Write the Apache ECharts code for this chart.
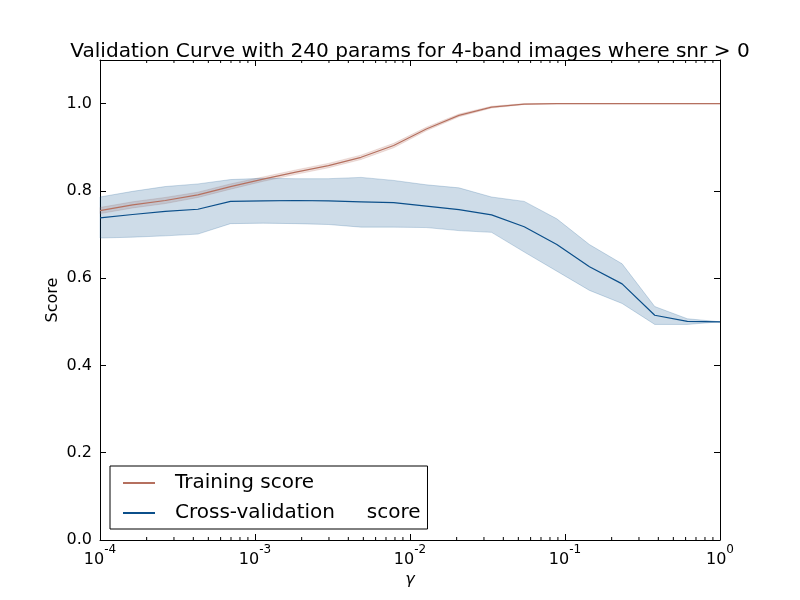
<!DOCTYPE html>
<html>
<head>
<meta charset="utf-8">
<script src="https://cdn.jsdelivr.net/npm/echarts@6/dist/echarts.min.js"></script>
<style>
  html, body { margin: 0; padding: 0; background: #fff; }
  #chart { width: 800px; height: 600px; }
</style>
</head>
<body>
<div id="chart"></div>
<script>
// gamma 取 10^-4 .. 10^0 共 20 个点
const gammaExp = [0, 1, 2, 3, 4, 5, 6, 7, 8, 9, 10, 11, 12, 13, 14, 15, 16, 17, 18, 19];

const trainMean = [0.755, 0.768, 0.778, 0.791, 0.810, 0.827, 0.843, 0.858, 0.877, 0.904,
                   0.942, 0.973, 0.992, 0.999, 1.0, 1.0, 1.0, 1.0, 1.0, 1.0];
const trainStd = [0.007, 0.007, 0.007, 0.006, 0.006, 0.005, 0.005, 0.005, 0.005, 0.005,
                  0.004, 0.003, 0.002, 0.001, 0.0, 0.0, 0.0, 0.0, 0.0, 0.0];

const cvMean = [0.738, 0.746, 0.753, 0.758, 0.776, 0.777, 0.778, 0.777, 0.775, 0.773,
                0.765, 0.757, 0.745, 0.718, 0.677, 0.626, 0.587, 0.515, 0.501, 0.500];
const cvUpper = [0.786, 0.799, 0.810, 0.816, 0.826, 0.829, 0.828, 0.828, 0.831, 0.824,
                 0.814, 0.807, 0.786, 0.776, 0.736, 0.677, 0.633, 0.535, 0.507, 0.500];
const cvLower = [0.692, 0.694, 0.697, 0.701, 0.725, 0.726, 0.725, 0.723, 0.717, 0.717,
                 0.716, 0.709, 0.705, 0.660, 0.616, 0.572, 0.542, 0.494, 0.494, 0.500];

const yTicks = [0.0, 0.2, 0.4, 0.6, 0.8, 1.0];
const minorMult = [2, 3, 4, 5, 6, 7, 8, 9];
const decades = [-4, -3, -2, -1];

const trainColor = '#b5705f';
const cvColor = '#0b4f8a';
const font = 'DejaVu Sans';

const gamma = gammaExp.map(i => Math.pow(10, -4 + 4 * i / 19));
const pairs = arr => gamma.map((g, i) => [g, arr[i]]);

const trainLow = trainMean.map((m, i) => m - trainStd[i]);
const trainHigh = trainMean.map((m, i) => m + trainStd[i]);

// 对数轴的次刻度
const minorTicks = [];
decades.forEach(d => minorMult.forEach(m => minorTicks.push([m * Math.pow(10, d)])));

const chart = echarts.init(document.getElementById('chart'));

// 填充带：上下边界围成的多边形
function bandSeries(name, low, high, color) {
    return {
        name: name, type: 'custom', silent: true, z: 2,
        data: gamma.map((g, i) => [g, low[i], high[i]]),
        renderItem: (params, api) => {
            if (params.dataIndex !== 0) return null;
            const up = gamma.map((g, i) => api.coord([g, high[i]]));
            const dn = gamma.map((g, i) => api.coord([g, low[i]])).reverse();
            return {
                type: 'polygon',
                shape: { points: up.concat(dn) },
                style: { fill: color, opacity: 0.2, stroke: color, lineWidth: 1 }
            };
        }
    };
}

const supLabel = {
    fontFamily: font,
    color: '#000',
    formatter: v => '{b|10}{s|' + Math.round(Math.log10(v)) + '}',
    rich: {
        b: { fontFamily: font, fontSize: 16, color: '#000', lineHeight: 24, verticalAlign: 'bottom' },
        s: { fontFamily: font, fontSize: 12, color: '#000', lineHeight: 12, verticalAlign: 'top' }
    }
};

const axisBase = {
    axisLine: { show: true, onZero: false, lineStyle: { color: '#000', width: 1 } },
    axisTick: { show: true, inside: true, length: 6, lineStyle: { color: '#000' } },
    splitLine: { show: false }
};

chart.setOption({
    backgroundColor: '#fff',
    animation: false,
    title: {
        text: 'Validation Curve with 240 params for 4-band images where snr > 0',
        left: 405,
        textAlign: 'center',
        top: 37,
        textStyle: { fontFamily: font, fontSize: 20.1, fontWeight: 'normal', color: '#000' }
    },
    grid: { left: 100, right: 80, top: 60, bottom: 60 },
    legend: {
        data: ['Training score', 'Cross-validation     score'],
        orient: 'vertical',
        left: 110,
        top: 466,
        padding: [7, 7, 6, 13],
        itemWidth: 32,
        itemHeight: 2,
        itemGap: 10,
        icon: 'rect',
        borderColor: '#000',
        borderWidth: 1,
        backgroundColor: '#fff',
        textStyle: { fontFamily: font, fontSize: 20, color: '#000', padding: [0, 0, 0, 15] }
    },
    xAxis: [
        Object.assign({
            type: 'log', logBase: 10, min: 1e-4, max: 1, position: 'bottom',
            name: 'γ', nameLocation: 'middle', nameGap: 32, nameMoveOverlap: false,
            nameTextStyle: { fontFamily: font, fontSize: 16, color: '#000', fontStyle: 'italic' },
            axisLabel: Object.assign({ margin: 4 }, supLabel)
        }, axisBase),
        Object.assign({
            type: 'log', logBase: 10, min: 1e-4, max: 1, position: 'top',
            axisLabel: { show: false }
        }, axisBase)
    ],
    yAxis: [
        Object.assign({
            type: 'value', min: 0, max: 1.1, interval: 0.2, position: 'left',
            name: 'Score', nameLocation: 'middle', nameGap: 39, nameMoveOverlap: false,
            nameTextStyle: { fontFamily: font, fontSize: 16, color: '#000' },
            axisLabel: {
                fontFamily: font, fontSize: 16, color: '#000', margin: 8,
                formatter: v => yTicks.some(t => Math.abs(t - v) < 1e-9) ? v.toFixed(1) : ''
            }
        }, axisBase),
        Object.assign({
            type: 'value', min: 0, max: 1.1, interval: 0.2, position: 'right',
            axisLabel: { show: false }
        }, axisBase)
    ],
    series: [
        bandSeries('trainBand', trainLow, trainHigh, trainColor),
        bandSeries('cvBand', cvLower, cvUpper, cvColor),
        {
            name: 'Training score', type: 'line', data: pairs(trainMean),
            symbol: 'none', color: trainColor,
            lineStyle: { color: trainColor, width: 1.2 }, z: 5
        },
        {
            name: 'Cross-validation     score', type: 'line', data: pairs(cvMean),
            symbol: 'none', color: cvColor,
            lineStyle: { color: cvColor, width: 1.2 }, z: 5
        },
        {
            name: 'minorTicks', type: 'custom', data: minorTicks, silent: true, z: 6,
            renderItem: (params, api) => {
                const v = api.value(0);
                const b = api.coord([v, 0]);
                const t = api.coord([v, 1.1]);
                return {
                    type: 'group',
                    children: [
                        { type: 'line', shape: { x1: b[0], y1: b[1], x2: b[0], y2: b[1] - 3 },
                          style: { stroke: '#000', lineWidth: 1 } },
                        { type: 'line', shape: { x1: t[0], y1: t[1], x2: t[0], y2: t[1] + 3 },
                          style: { stroke: '#000', lineWidth: 1 } }
                    ]
                };
            }
        }
    ]
});
</script>
</body>
</html>
